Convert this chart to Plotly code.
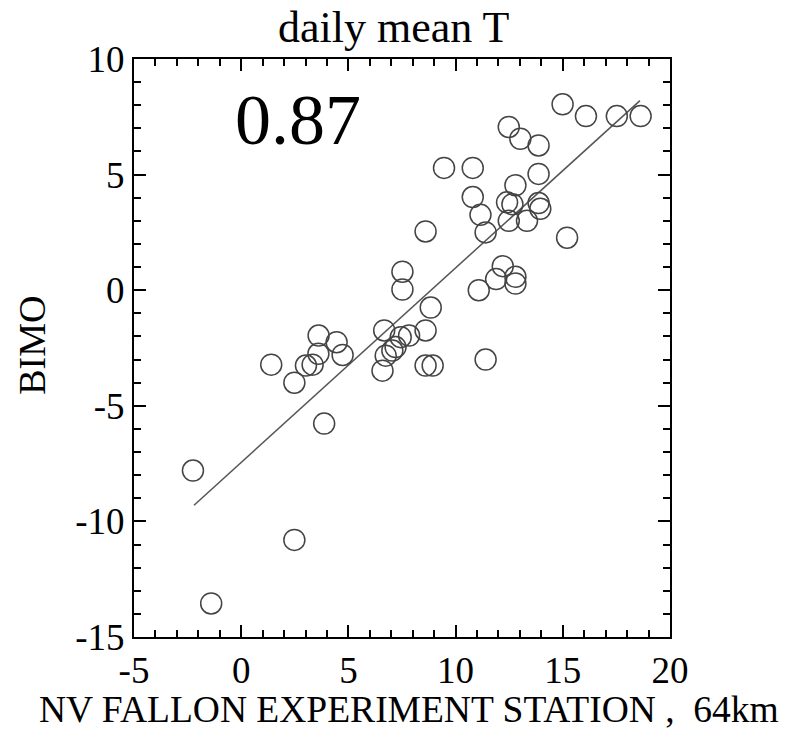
import plotly.graph_objects as go

# Data
station_x = [14.99, 16.08, 17.52, 18.63, 12.48, 13.02, 13.87, 9.46, 10.80, 13.87,
             12.79, 10.80, 12.40, 12.65, 13.87, 13.95, 11.16, 12.48, 13.33, 11.40,
             8.60, 15.20, 12.20, 11.89, 12.79, 12.79, 11.08, 8.84, 7.52, 7.52,
             1.40, 2.48, 3.02, 3.33, 3.60, 3.61, 4.45, 4.73, 6.67, 7.44,
             7.83, 8.60, 7.05, 6.74, 7.20, 6.59, 8.60, 8.93, 3.87, -2.25,
             2.48, -1.40, 11.40]
bimo_y = [8.04, 7.53, 7.53, 7.53, 7.06, 6.55, 6.26, 5.29, 5.29, 5.03,
          4.54, 4.03, 3.80, 3.72, 3.77, 3.52, 3.26, 3.00, 3.00, 2.50,
          2.54, 2.27, 1.04, 0.48, 0.58, 0.29, 0.00, -0.75, 0.80, 0.03,
          -3.22, -4.00, -3.26, -3.22, -2.75, -1.96, -2.25, -2.80, -1.74, -2.03,
          -1.96, -1.74, -2.61, -2.83, -2.46, -3.48, -3.26, -3.26, -5.77, -7.80,
          -10.80, -13.55, -3.00]

fit_x = [-2.2, 18.6]
fit_y = [-9.3, 8.2]

corr_label = "0.87"
corr_pos = [2.67, 7.35]
title_text = "daily mean T"
x_title = "NV FALLON EXPERIMENT STATION ,  64km"
y_title = "BIMO"
x_ticks = [-5, 0, 5, 10, 15, 20]
x_ticklabels = ["-5", "0", "5", "10", "15", "20"]
y_ticks = [-15, -10, -5, 0, 5, 10]
y_ticklabels = ["-15", "-10", "-5", "0", "5", "10"]

FONT = "Liberation Serif, Times New Roman, serif"

fig = go.Figure()
fig.add_trace(go.Scatter(x=fit_x, y=fit_y, mode="lines",
                         line=dict(color="#555555", width=1.5),
                         showlegend=False, hoverinfo="skip"))
fig.add_trace(go.Scatter(x=station_x, y=bimo_y, mode="markers",
                         marker=dict(symbol="circle-open", size=21, color="#444444",
                                     line=dict(width=1.5, color="#444444")),
                         showlegend=False))

axis_common = dict(
    ticks="inside", ticklen=12, tickwidth=2, tickcolor="black",
    showline=True, linewidth=2, linecolor="black", mirror="allticks",
    showgrid=False, zeroline=False,
    tickfont=dict(family=FONT, size=37, color="black"),
    minor=dict(ticks="inside", ticklen=7, tickwidth=1.5, tickcolor="black", dtick=1, showgrid=False),
)

fig.update_layout(
    width=806, height=732,
    margin=dict(l=134, r=136, t=59, b=95),
    paper_bgcolor="white", plot_bgcolor="white",
    font=dict(family=FONT, color="black"),
    xaxis=dict(range=[-5, 20], tickvals=x_ticks, ticktext=x_ticklabels,
               ticklabelstandoff=0, **axis_common),
    yaxis=dict(range=[-15, 10], tickvals=y_ticks, ticktext=y_ticklabels, **axis_common),
    annotations=[
        dict(text=title_text, xref="paper", yref="paper", x=0.485, y=1.055,
             xanchor="center", yanchor="middle", showarrow=False,
             font=dict(family=FONT, size=44, color="black")),
        dict(text=x_title, xref="paper", yref="paper", x=0.513, y=-0.125,
             xanchor="center", yanchor="middle", showarrow=False,
             font=dict(family=FONT, size=37.5, color="black")),
        dict(text=y_title, xref="paper", yref="paper", x=-0.19, y=0.504,
             xanchor="center", yanchor="middle", showarrow=False, textangle=-90,
             font=dict(family=FONT, size=38, color="black")),
        dict(text=corr_label, x=corr_pos[0], y=corr_pos[1], xref="x", yref="y",
             xanchor="center", yanchor="middle", showarrow=False,
             font=dict(family=FONT, size=72, color="black")),
    ],
)

fig.write_html("out.html")
